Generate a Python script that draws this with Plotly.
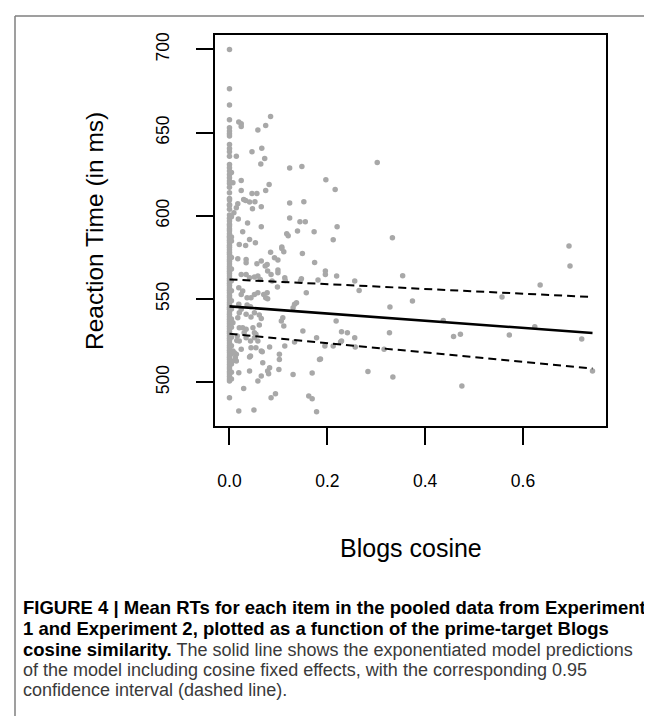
import plotly.graph_objects as go

# ---- data ----
col0_rt = [700, 676.4, 666.6, 657.8, 653.0, 651.0, 649.3, 648.0, 642.9, 640.5, 638.5, 635.9,
           630.9, 628.9, 626.9, 624.9, 622.9, 620.9, 619.4, 617.2, 613.9, 610.5, 609.5, 606.9,
           606.3, 603.9, 600.5, 598.5, 596.9, 595.0, 593.9, 592.3, 591.0, 589.2, 587.8, 586.8,
           585.4, 584.0, 582.4, 581.1, 579.6, 578.2, 576.9, 575.3, 573.8, 572.6, 571.1, 569.5,
           568.2, 566.7, 565.3, 563.9, 562.4, 561.0, 559.5, 558.1, 556.6, 555.3, 553.8, 552.2,
           550.9, 549.5, 548.0, 546.6, 545.1, 543.8, 542.2, 540.9, 539.4, 537.9, 536.5, 535.1,
           533.6, 532.2, 530.7, 529.4, 527.9, 526.4, 525.1, 523.6, 522.1, 520.8, 519.3, 517.9,
           516.4, 515.0, 513.6, 512.1, 510.7, 509.2, 507.9, 506.3, 504.9, 503.5, 502.0, 500.8, 490.7]
col1_rt = [626.0, 599.5, 587.3, 584.9, 575.0, 568.0, 561.0, 555.0, 549.0, 544.0, 538.0, 533.0,
           527.0, 522.0, 517.0, 511.0, 506.0, 502.0]

scatter_pts = [
    (0.019, 656.4), (0.024, 655.3), (0.024, 653.7), (0.084, 659.7), (0.074, 654.3), (0.058, 651.6),
    (0.014, 635.9), (0.046, 638.5), (0.066, 640.7), (0.072, 634.5), (0.064, 631.1), (0.123, 628.7),
    (0.148, 629.7), (0.302, 632.1),
    (0.007, 619.9), (0.024, 621.3), (0.197, 621.7), (0.216, 615.9), (0.081, 618.9), (0.074, 615.3),
    (0.024, 615.3), (0.046, 613.5), (0.056, 613.5),
    (0.029, 609.9), (0.033, 609.3), (0.041, 608.3), (0.052, 608.5), (0.017, 607.3), (0.014, 604.9),
    (0.009, 601.9), (0.065, 605.5), (0.047, 604.3), (0.123, 607.7), (0.152, 608.5),
    (0.018, 598.1), (0.037, 595.7), (0.065, 593.4), (0.123, 598.7), (0.144, 596.4), (0.155, 596.4),
    (0.220, 593.4),
    (0.027, 590.4), (0.041, 585.8), (0.020, 582.8), (0.033, 582.2), (0.053, 583.8), (0.117, 589.2),
    (0.120, 588.0), (0.139, 590.9), (0.173, 590.4), (0.212, 585.6), (0.333, 586.8), (0.107, 581.3),
    (0.017, 574.2), (0.034, 573.8), (0.034, 571.8), (0.056, 571.2), (0.065, 572.8), (0.073, 569.8),
    (0.077, 570.8), (0.084, 578.2), (0.092, 574.8), (0.099, 573.4), (0.107, 580.4), (0.111, 578.4),
    (0.149, 577.4), (0.174, 572.0), (0.196, 566.8), (0.196, 564.8), (0.219, 563.8), (0.256, 560.8),
    (0.265, 555.2),
    (0.024, 564.8), (0.034, 564.8), (0.041, 562.8), (0.051, 563.2), (0.058, 563.8), (0.063, 561.8),
    (0.078, 566.8), (0.085, 564.8), (0.099, 567.4), (0.099, 565.8), (0.087, 560.8), (0.098, 557.2),
    (0.113, 562.8), (0.114, 561.2), (0.145, 560.8), (0.157, 553.8),
    (0.019, 556.8), (0.027, 554.8), (0.024, 552.8), (0.036, 550.8), (0.044, 550.8), (0.051, 552.8),
    (0.058, 553.8), (0.070, 552.8), (0.074, 550.8), (0.078, 550.2), (0.077, 553.8), (0.133, 546.8),
    (0.137, 547.8), (0.130, 544.8),
    (0.019, 546.8), (0.024, 543.8), (0.036, 546.4), (0.043, 545.4), (0.017, 538.8), (0.020, 541.8),
    (0.034, 540.8), (0.044, 539.2), (0.051, 541.8), (0.061, 540.4), (0.065, 538.3), (0.109, 538.8),
    (0.106, 536.8), (0.111, 533.8), (0.218, 536.8),
    (0.020, 532.8), (0.027, 532.8), (0.034, 531.8), (0.048, 532.8), (0.051, 529.8), (0.061, 534.4),
    (0.150, 530.8), (0.229, 530.4), (0.241, 529.8), (0.256, 526.8), (0.178, 526.8), (0.195, 521.8),
    (0.212, 521.8), (0.229, 524.8), (0.257, 521.2),
    (0.016, 527.8), (0.020, 524.8), (0.034, 526.8), (0.043, 524.8), (0.051, 526.8), (0.058, 524.8),
    (0.133, 524.2), (0.113, 521.8),
    (0.007, 518.8), (0.014, 516.8), (0.024, 519.8), (0.044, 520.8), (0.054, 520.8), (0.065, 518.8),
    (0.082, 521.2), (0.102, 516.8), (0.041, 515.2), (0.014, 512.8), (0.102, 513.7), (0.186, 513.9),
    (0.019, 505.7), (0.041, 506.7), (0.082, 508.7), (0.080, 505.1), (0.065, 503.7), (0.058, 500.7),
    (0.101, 507.7), (0.130, 504.7), (0.169, 505.5), (0.283, 506.5), (0.334, 503.1),
    (0.029, 496.3), (0.085, 490.7), (0.094, 493.1), (0.162, 491.7), (0.169, 490.1), (0.019, 482.7),
    (0.050, 483.3), (0.178, 482.3),
    (0.068, 511.7), (0.078, 506.8), (0.010, 517.7), (0.005, 512.8), (0.012, 514.7), (0.067, 518.3),
    (0.043, 515.8), (0.015, 525.1),
    (0.007, 535.8), (0.030, 529.8), (0.054, 528.8), (0.147, 562.2), (0.181, 561.4), (0.227, 524.2),
    (0.184, 513.7),
    (0.694, 581.9), (0.696, 569.8), (0.354, 564.0), (0.635, 558.4), (0.557, 551.2), (0.328, 545.2),
    (0.374, 548.8), (0.437, 537.1), (0.624, 533.4), (0.327, 529.8), (0.458, 527.5), (0.472, 528.9),
    (0.572, 528.4), (0.720, 526.0), (0.475, 497.7), (0.742, 506.7), (0.316, 519.8),
]

cosine = [0.0] * len(col0_rt) + [0.004] * len(col1_rt) + [p[0] for p in scatter_pts]
rt = col0_rt + col1_rt + [p[1] for p in scatter_pts]

fit_x = [0.0, 0.742]
fit_mid = [545.6, 529.6]
fit_upper = [561.8, 551.2]
fit_lower = [529.1, 508.3]

x_ticks = [0.0, 0.2, 0.4, 0.6]
x_ticktext = ["0.0", "0.2", "0.4", "0.6"]
y_ticks = [500, 550, 600, 650, 700]
y_ticktext = ["500", "550", "600", "650", "700"]

REG = "<span style='color:#3a3a3a;font-size:18px'>{}</span>"
caption_lines = [
    "<b>FIGURE 4 | Mean RTs for each item in the pooled data from Experiment</b>",
    "<b>1 and Experiment 2, plotted as a function of the prime-target Blogs</b>",
    "<b>cosine similarity.</b>" + REG.format(" The solid line shows the exponentiated model predictions"),
    REG.format("of the model including cosine fixed effects, with the corresponding 0.95"),
    REG.format("confidence interval (dashed line)."),
]

# ---- figure ----
W, H = 652, 716
L, R, T, B = 207, 598, 27, 418
pw, ph = R - L, B - T

def px2paper_x(px):
    return (px - L) / pw

def px2paper_y(py):
    return (B - py) / ph

fig = go.Figure()
fig.add_trace(go.Scatter(x=cosine, y=rt, mode="markers",
                         marker=dict(color="#a8a8a8", size=5.5, line=dict(width=0)),
                         showlegend=False, hoverinfo="skip"))
fig.add_trace(go.Scatter(x=fit_x, y=fit_mid, mode="lines",
                         line=dict(color="black", width=2.6), showlegend=False))
fig.add_trace(go.Scatter(x=fit_x, y=fit_upper, mode="lines",
                         line=dict(color="black", width=2, dash="8px,5px"), showlegend=False))
fig.add_trace(go.Scatter(x=fit_x, y=fit_lower, mode="lines",
                         line=dict(color="black", width=2, dash="8px,5px"), showlegend=False))

font_fam = "Liberation Sans, Arial, sans-serif"

fig.update_layout(
    width=W, height=H,
    margin=dict(l=L, r=W - R, t=T, b=H - B, pad=0),
    paper_bgcolor="white", plot_bgcolor="white",
    font=dict(family=font_fam, color="black"),
    xaxis=dict(range=[-0.0296, 0.7696], tickvals=x_ticks, ticktext=x_ticktext,
               showgrid=False, zeroline=False, showline=True, mirror=True,
               linecolor="black", linewidth=1.8, ticks="outside", ticklen=17,
               tickwidth=1.8, tickcolor="black", tickfont=dict(size=17.5),
               ticklabelstandoff=21),
    yaxis=dict(range=[473.7, 708.7], tickvals=y_ticks, ticktext=y_ticktext,
               showgrid=False, zeroline=False, showline=True, mirror=True,
               linecolor="black", linewidth=1.8, ticks="outside", ticklen=17,
               tickwidth=1.8, tickcolor="black", tickfont=dict(size=17.5),
               tickangle=-90, ticklabelstandoff=20),
)

# axis titles
fig.add_annotation(text="Blogs cosine", xref="paper", yref="paper",
                   x=px2paper_x(402.5), y=px2paper_y(540), xanchor="center", yanchor="middle",
                   showarrow=False, font=dict(size=25, family=font_fam, color="black"))
fig.add_annotation(text="Reaction Time (in ms)", xref="paper", yref="paper",
                   x=px2paper_x(86), y=px2paper_y(223), xanchor="center", yanchor="middle",
                   textangle=-90, showarrow=False,
                   font=dict(size=24.5, family=font_fam, color="black"))

# caption
cap_y = [599, 620, 641, 661.5, 682]
for line, cy in zip(caption_lines, cap_y):
    fig.add_annotation(text=line, xref="paper", yref="paper",
                       x=px2paper_x(13), y=px2paper_y(cy), xanchor="left", yanchor="middle",
                       showarrow=False, align="left",
                       font=dict(size=18.5, family=font_fam, color="black"))

# outer frame (top and left edges)
fig.add_shape(type="line", xref="paper", yref="paper",
              x0=px2paper_x(7), y0=px2paper_y(8), x1=px2paper_x(660), y1=px2paper_y(8),
              line=dict(color="#7f7f7f", width=1.5))
fig.add_shape(type="line", xref="paper", yref="paper",
              x0=px2paper_x(7), y0=px2paper_y(8), x1=px2paper_x(7), y1=px2paper_y(720),
              line=dict(color="#7f7f7f", width=1.5))

fig.write_html("out.html")
